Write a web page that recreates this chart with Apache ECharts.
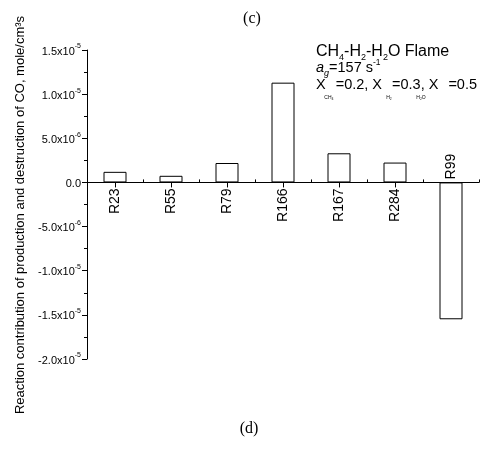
<!DOCTYPE html>
<html><head><meta charset="utf-8">
<script src="https://cdn.jsdelivr.net/npm/echarts@6/dist/echarts.min.js"></script>
<style>html,body{margin:0;padding:0;background:#fff}#c{width:490px;height:453px}</style>
</head><body><div id="c"></div>
<script>
// Reactions (categories)
const categories = ['R23', 'R55', 'R79', 'R166', 'R167', 'R284', 'R99'];
// Reaction contribution of production/destruction of CO, in units of 1e-6 mole/cm^3 s
const contributionE6 = [1.2, 0.75, 2.2, 11.3, 3.3, 2.25, -15.5];
// Y tick labels (value in 1e-6 units -> mantissa / exponent)
const yTickValuesE6 = [-20, -15, -10, -5, 0, 5, 10, 15];
const yTickMantissa = ['-2.0', '-1.5', '-1.0', '-5.0', '0.0', '5.0', '1.0', '1.5'];
const yTickExponent = ['-5', '-5', '-5', '-6', '', '-6', '-5', '-5'];
const yTitle = 'Reaction contribution of production and destruction of CO, mole/cm\u00B3s';

const FONT = '"Liberation Sans", Arial, sans-serif';
const chart = echarts.init(document.getElementById('c'), null, {renderer: 'canvas'});

chart.setOption({
  animation: false,
  backgroundColor: '#fff',
  grid: {left: 87, right: 11, top: 50, bottom: 94, containLabel: false},
  xAxis: [{
    type: 'category', data: categories,
    axisLine: {onZero: true, lineStyle: {color: '#000', width: 1}},
    axisTick: {show: true, alignWithLabel: true, length: 5, lineStyle: {color: '#000'}},
    axisLabel: {show: false},
    splitLine: {show: false}
  }, {
    type: 'category', data: categories, position: 'bottom', offset: 0,
    axisLine: {show: false, onZero: false},
    axisTick: {show: true, alignWithLabel: false, inside: true, length: 3, lineStyle: {color: '#000'}},
    axisLabel: {show: false},
    splitLine: {show: false}
  }],
  yAxis: {
    type: 'value', min: -20, max: 15, interval: 5,
    axisLine: {show: true, lineStyle: {color: '#000', width: 1}},
    axisTick: {show: true, length: 5, lineStyle: {color: '#000'}},
    minorTick: {show: true, splitNumber: 2, length: 3, lineStyle: {color: '#000'}},
    splitLine: {show: false},
    axisLabel: {
      margin: 6, color: '#000',
      formatter: function (v) {
        const i = yTickValuesE6.findIndex(t => Math.abs(t - v) < 1e-9);
        if (i < 0) return '';
        if (!yTickExponent[i]) return '{m|' + yTickMantissa[i] + '}';
        return '{m|' + yTickMantissa[i] + 'x10}{e|' + yTickExponent[i] + '}';
      },
      rich: {
        m: {fontFamily: FONT, fontSize: 11, color: '#000', lineHeight: 14, verticalAlign: 'bottom'},
        e: {fontFamily: FONT, fontSize: 7, color: '#000', lineHeight: 14, verticalAlign: 'top'}
      }
    }
  },
  series: [{
    type: 'bar', xAxisIndex: 0, yAxisIndex: 0,
    data: contributionE6,
    barWidth: 23,
    itemStyle: {color: '#fff', borderColor: '#000', borderWidth: 1}
  }]
});

// move the boundary-tick axis onto the zero line, using the chart's own y scale
const zeroY = chart.convertToPixel({yAxisIndex: 0}, 0);
const bottomY = chart.convertToPixel({yAxisIndex: 0}, -20);
chart.setOption({xAxis: [{}, {offset: zeroY - bottomY}]});

// text layout helper for annotation
const ctx = document.createElement('canvas').getContext('2d');
function layoutLine(segs, x0, base) {
  let x = x0; const out = [];
  for (const s of segs) {
    const size = s.size || 15;
    const font = (s.italic ? 'italic ' : '') + size + 'px ' + FONT;
    if (s.text) {
      ctx.font = font;
      out.push({type: 'text', x: x, y: base + (s.dy || 0) - 0.31 * size, silent: true,
        style: {text: s.text, font: font, fill: '#000', align: 'left', verticalAlign: 'middle'}});
      x += ctx.measureText(s.text).width;
    }
    x += (s.gap || 0);
  }
  return out;
}

const graphics = [];
graphics.push({type: 'text', x: 252, y: 19, silent: true,
  style: {text: '(c)', font: '16px "Liberation Serif", "Times New Roman", serif', fill: '#000', align: 'center', verticalAlign: 'middle'}});
graphics.push({type: 'text', x: 249, y: 429, silent: true,
  style: {text: '(d)', font: '16px "Liberation Serif", "Times New Roman", serif', fill: '#000', align: 'center', verticalAlign: 'middle'}});
graphics.push({type: 'text', x: 20, y: 215, rotation: Math.PI / 2, silent: true,
  style: {text: yTitle, font: '13px ' + FONT, fill: '#000', align: 'center', verticalAlign: 'middle'}});

// annotation block
graphics.push(...layoutLine([
  {text: 'CH', size: 16}, {text: '4', size: 9, dy: 3}, {text: '-H', size: 16}, {text: '2', size: 9, dy: 3},
  {text: '-H', size: 16}, {text: '2', size: 9, dy: 3}, {text: 'O Flame', size: 16}
], 316, 57));
graphics.push(...layoutLine([
  {text: 'a', size: 14.5, italic: true}, {text: 'g', size: 9, italic: true, dy: 4},
  {text: '=157 s', size: 14.5}, {text: '-1', size: 8.5, dy: -7}
], 316, 72.5));
graphics.push(...layoutLine([
  {text: 'X', size: 14.5, gap: 10}, {text: '=0.2, X', size: 14.5, gap: 10},
  {text: '=0.3, X', size: 14.5, gap: 10}, {text: '=0.5', size: 14.5}
], 316, 89));
// tiny subscripts under X's
graphics.push({type: 'text', x: 329, y: 98, silent: true, style: {text: 'CH\u2084', font: '5px ' + FONT, fill: '#000', align: 'center', verticalAlign: 'middle'}});
graphics.push({type: 'text', x: 389, y: 98, silent: true, style: {text: 'H\u2082', font: '5px ' + FONT, fill: '#000', align: 'center', verticalAlign: 'middle'}});
graphics.push({type: 'text', x: 421, y: 98, silent: true, style: {text: 'H\u2082O', font: '5px ' + FONT, fill: '#000', align: 'center', verticalAlign: 'middle'}});

// category labels, placed through the chart's own scales
categories.forEach(function (name, i) {
  const p = chart.convertToPixel({xAxisIndex: 0, yAxisIndex: 0}, [name, 0]);
  const neg = contributionE6[i] < 0;
  graphics.push({type: 'text', x: p[0], y: neg ? p[1] - 3 : p[1] + 6, rotation: Math.PI / 2, silent: true,
    style: {text: name, font: '14px ' + FONT, fill: '#000', align: neg ? 'left' : 'right', verticalAlign: 'middle'}});
});

chart.setOption({graphic: graphics});
</script>
</body></html>
